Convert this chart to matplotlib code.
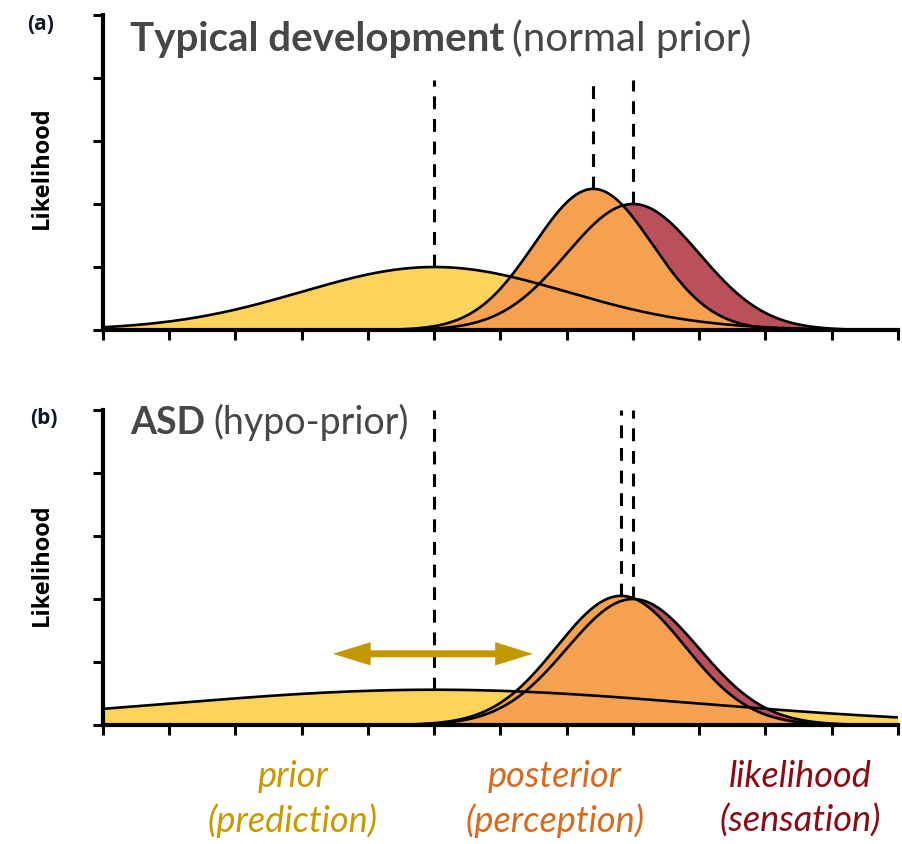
import numpy as np
import matplotlib
matplotlib.use("Agg")
import matplotlib.pyplot as plt

# ---- data ----
curve_names = ["prior", "likelihood", "posterior"]
# panel (a): typical development
means_a = [5.0, 8.0, 7.4]
sds_a = [2.0, 1.0, 0.894]
peaks_a = [1.0, 2.0, 2.24]
# panel (b): ASD
means_b = [5.0, 8.0, 7.82]
sds_b = [4.0, 1.0, 0.97]
peaks_b = [0.56, 2.0, 2.05]
dash_top_a = 3.97
dash_top_b = 5.0
arrow_x = [3.47, 6.49]
arrow_y = 1.13
x_min, x_max = 0, 12
n_xticks = 13
y_max = 5

fill_colors = {"prior": "#FED35C", "likelihood": "#B9505A", "posterior": "#F5A150"}
text_colors = {"prior": "#C99A00", "posterior": "#D86A1E", "likelihood": "#8C0A14"}
label_lines = {"prior": ["prior", "(prediction)"], "posterior": ["posterior", "(perception)"],
               "likelihood": ["likelihood", "(sensation)"]}
label_x_px = {"prior": 293, "posterior": 555, "likelihood": 800}

W, H = 903, 844
fig = plt.figure(figsize=(W / 100, H / 100), dpi=100)

def px_axes(left, top, right, bottom):
    return fig.add_axes([left / W, 1 - bottom / H, (right - left) / W, (bottom - top) / H])

ax_a = px_axes(103, 15, 898, 330)
ax_b = px_axes(103, 410, 898, 725)

xs = np.linspace(x_min, x_max, 800)

def gauss(x, m, s, p):
    return p * np.exp(-0.5 * ((x - m) / s) ** 2)

def draw_panel(ax, means, sds, peaks, dash_top):
    ys = {n: gauss(xs, m, s, p) for n, m, s, p in zip(curve_names, means, sds, peaks)}
    for z, n in enumerate(["prior", "likelihood", "posterior"]):
        ax.fill_between(xs, 0, ys[n], color=fill_colors[n], lw=0, zorder=1 + z)
    for n in curve_names:
        ax.plot(xs, ys[n], color="black", lw=1.9, zorder=5, solid_capstyle="butt")
    for m, p in zip(means, peaks):
        ax.plot([m, m], [p, dash_top], color="black", lw=2.2, ls=(0, (4.2, 3.2)), zorder=6,
                dash_capstyle="butt")
    ax.set_xlim(x_min, x_max)
    ax.set_ylim(0, y_max)
    ax.set_xticks(np.linspace(x_min, x_max, n_xticks))
    ax.set_yticks(np.arange(0, y_max + 1))
    ax.tick_params(axis="both", direction="out", length=7, width=2.2, labelbottom=False,
                   labelleft=False, color="black")
    for s in ["top", "right"]:
        ax.spines[s].set_visible(False)
    for s in ["left", "bottom"]:
        ax.spines[s].set_linewidth(3)
        ax.spines[s].set_zorder(7)
    ax.patch.set_alpha(0)

draw_panel(ax_a, means_a, sds_a, peaks_a, dash_top_a)
draw_panel(ax_b, means_b, sds_b, peaks_b, dash_top_b)

# double-headed arrow in panel (b)
gold = "#C49600"
mid = 0.5 * (arrow_x[0] + arrow_x[1])
for end in arrow_x:
    ax_b.arrow(mid, arrow_y, end - mid, 0, width=0.11, head_width=0.37, head_length=0.57,
               length_includes_head=True, color=gold, lw=0, zorder=8)

# y labels
for yc in [168, 565]:
    fig.text(42 / W, 1 - yc / H, "Likelihood", rotation=90, ha="center", va="center",
             fontsize=17, fontweight="bold", family="Open Sans", color="black")

# panel letters
fig.text(41 / W, 1 - 24 / H, "(a)", ha="center", va="center", fontsize=15,
         fontweight="bold", family="Open Sans", color="#101828")
fig.text(44 / W, 1 - 419 / H, "(b)", ha="center", va="center", fontsize=15,
         fontweight="bold", family="Open Sans", color="#101828")

# titles
title_color = "#474747"
fig.canvas.draw()
renderer = fig.canvas.get_renderer()

def two_part_title(x_px, base_px, bold, normal, size):
    t1 = fig.text(x_px / W, 1 - base_px / H, bold, ha="left", va="baseline", fontsize=size,
                  fontweight="bold", family="Lato", color=title_color)
    bb = t1.get_window_extent(renderer=renderer)
    fig.text((bb.x1 + 8) / W, 1 - base_px / H, normal, ha="left", va="baseline",
             fontsize=size, family="Lato", color=title_color)

two_part_title(130, 51, "Typical development", "(normal prior)", 29)
two_part_title(130, 434, "ASD", "(hypo-prior)", 27)

# bottom labels
for n in ["prior", "posterior", "likelihood"]:
    for line, base in zip(label_lines[n], [787, 832]):
        fig.text(label_x_px[n] / W, 1 - base / H, line, ha="center", va="baseline",
                 fontsize=26, style="italic", family="Lato", color=text_colors[n])

fig.savefig("out.png", dpi=100)
